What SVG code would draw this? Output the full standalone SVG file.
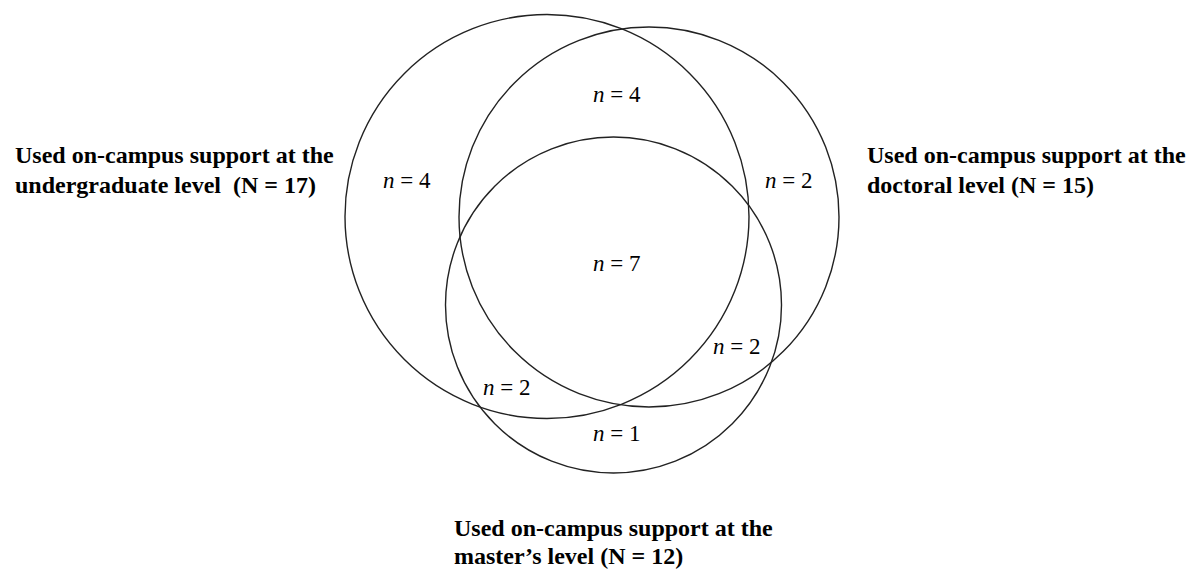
<svg xmlns="http://www.w3.org/2000/svg" width="1201" height="571" viewBox="0 0 1201 571">
<style>
.c{fill:none;stroke:#222;stroke-width:1.4}
.t{font-family:"Liberation Serif","Times New Roman",serif;font-weight:bold;font-size:24px;fill:#000}
.n{font-family:"Liberation Serif","Times New Roman",serif;font-size:23px;fill:#000}
.i{font-style:italic}
</style>
<rect width="1201" height="571" fill="#fff"/>
<g id="connectors"></g>
<g id="undergraduate">
<circle class="c" cx="547" cy="216.5" r="202"/>
<text class="t" x="15" y="163">Used on-campus support at the</text>
<text class="t" x="15" y="193">undergraduate level&#160; (N = 17)</text>
</g>
<g id="doctoral">
<circle class="c" cx="649" cy="217" r="190"/>
<text class="t" x="867" y="163">Used on-campus support at the</text>
<text class="t" x="867" y="193">doctoral level (N = 15)</text>
</g>
<g id="masters">
<circle class="c" cx="613.5" cy="305" r="168"/>
<text class="t" x="454" y="536">Used on-campus support at the</text>
<text class="t" x="454" y="564">master’s level (N = 12)</text>
</g>
<g id="regions">
<text class="n" x="593" y="102"><tspan class="i">n</tspan> = 4</text>
<text class="n" x="383" y="188"><tspan class="i">n</tspan> = 4</text>
<text class="n" x="765" y="188"><tspan class="i">n</tspan> = 2</text>
<text class="n" x="593" y="271"><tspan class="i">n</tspan> = 7</text>
<text class="n" x="713" y="354"><tspan class="i">n</tspan> = 2</text>
<text class="n" x="483" y="395"><tspan class="i">n</tspan> = 2</text>
<text class="n" x="593" y="441"><tspan class="i">n</tspan> = 1</text>
</g>
</svg>
